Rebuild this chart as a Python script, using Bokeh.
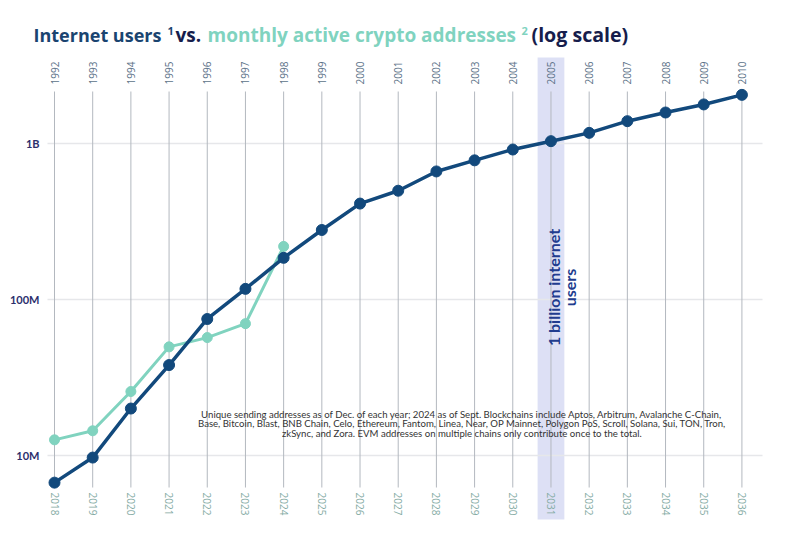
from math import pi
from bokeh.plotting import figure
from bokeh.models import (ColumnDataSource, LinearAxis, FixedTicker, Range1d,
                          BoxAnnotation, Label)
from bokeh.embed import file_html
from bokeh.resources import INLINE

# ---------------- data ----------------
internet_years = [1992, 1993, 1994, 1995, 1996, 1997, 1998, 1999, 2000, 2001,
                  2002, 2003, 2004, 2005, 2006, 2007, 2008, 2009, 2010]
internet_users_m = [6.7, 9.7, 20, 38, 75, 117, 185, 279, 412, 498,
                    662, 780, 915, 1035, 1170, 1390, 1580, 1780, 2050]

crypto_years = [2018, 2019, 2020, 2021, 2022, 2023, 2024]
crypto_addresses_m = [12.6, 14.4, 25.7, 49.7, 57, 70, 219]

bottom_years = list(range(2018, 2037))
y_ticks = [1e7, 1e8, 1e9]
y_tick_labels = ["10M", "100M", "1B"]

highlight_year = 2005
highlight_text = "1 billion internet\nusers"

note_lines = [
    "Unique sending addresses as of Dec. of each year; 2024 as of Sept. Blockchains include Aptos, Arbitrum, Avalanche C-Chain,",
    "Base, Bitcoin, Blast, BNB Chain, Celo, Ethereum, Fantom, Linea, Near, OP Mainnet, Polygon PoS, Scroll, Solana, Sui, TON, Tron,",
    "zkSync, and Zora. EVM addresses on multiple chains only contribute once to the total.",
]

# ---------------- colours ----------------
DARK = "#12497c"
TEAL = "#80d3bf"
NAVY = "#161d4c"
TITLE_BLUE = "#1a4470"

# ---------------- layout constants (pixels) ----------------
W, H = 782, 525
PX_1B = 143.0          # pixel row of 1B
PX_DECADE = 156.0      # pixels per decade
X0_PX = 54.0           # pixel column of first year
X_STEP = 38.19         # pixels per year
GRID_LEFT, GRID_RIGHT = 47, 762


def ylog_at(py):
    return 9 + (PX_1B - py) / PX_DECADE


def x_at(px):
    return (px - X0_PX) / X_STEP


internet_src = ColumnDataSource(dict(
    x=[y - internet_years[0] for y in internet_years],
    v=[m * 1e6 for m in internet_users_m]))
crypto_src = ColumnDataSource(dict(
    x=[y - crypto_years[0] for y in crypto_years],
    v=[m * 1e6 for m in crypto_addresses_m]))

p = figure(width=W, height=H, output_backend="svg", toolbar_location=None,
           y_axis_type="log",
           x_range=Range1d(x_at(0), x_at(W)),
           y_range=Range1d(10 ** ylog_at(H), 10 ** ylog_at(0)),
           min_border_left=0, min_border_right=0,
           min_border_top=0, min_border_bottom=0,
           background_fill_color="white", border_fill_color="white")
p.outline_line_color = None
p.xgrid.visible = False
p.ygrid.visible = False

# highlight band (underneath everything)
hx = highlight_year - internet_years[0]
band = BoxAnnotation(left=hx - 0.35, right=hx + 0.35,
                     top=H - 57, bottom=H - 519,
                     top_units="screen", bottom_units="screen",
                     fill_color="#d9ddf4", fill_alpha=0.9, line_color=None,
                     level="underlay")
p.add_layout(band)

# horizontal grid lines at the y ticks
m = len(y_ticks)
p.segment(x0=[x_at(GRID_LEFT)] * m, x1=[x_at(GRID_RIGHT)] * m,
          y0=y_ticks, y1=y_ticks, line_color="#e6e7ea", line_width=1.5)

# vertical year lines
n = len(internet_years)
p.segment(x0=list(range(n)), x1=list(range(n)),
          y0=[10 ** ylog_at(487)] * n, y1=[10 ** ylog_at(91)] * n,
          line_color="#b3b8bf", line_width=1)

# left axis
ya = p.yaxis[0]
ya.ticker = FixedTicker(ticks=y_ticks)
ya.major_label_overrides = {t: l for t, l in zip(y_ticks, y_tick_labels)}
ya.fixed_location = x_at(48)
ya.axis_line_color = None
ya.major_tick_line_color = None
ya.minor_tick_line_color = None
ya.major_label_standoff = 3
ya.major_label_text_font = "Lato"
ya.major_label_text_font_style = "bold"
ya.major_label_text_font_size = "11px"
ya.major_label_text_color = "#2c2f6c"

# bottom axis (crypto years)
xa = p.xaxis[0]
xa.ticker = FixedTicker(ticks=list(range(len(bottom_years))))
xa.major_label_overrides = {i: str(y) for i, y in enumerate(bottom_years)}
xa.major_label_orientation = "vertical"
xa.fixed_location = 10 ** ylog_at(486)
xa.axis_line_color = None
xa.major_tick_line_color = None
xa.minor_tick_line_color = None
xa.major_label_standoff = 0
xa.major_label_text_font = "Open Sans"
xa.major_label_text_font_size = "10px"
xa.major_label_text_color = "#86aca5"

# top axis (internet years)
ta = LinearAxis(ticker=FixedTicker(ticks=list(range(n))),
                major_label_overrides={i: str(y) for i, y in enumerate(internet_years)},
                major_label_orientation="vertical",
                fixed_location=10 ** ylog_at(90),
                axis_line_color=None, major_tick_line_color=None,
                minor_tick_line_color=None, major_label_standoff=0,
                major_label_text_font="Open Sans",
                major_label_text_font_size="10px",
                major_label_text_color="#5c7288")
p.add_layout(ta, "above")

# lines
p.line("x", "v", source=crypto_src, line_color=TEAL, line_width=3)
p.scatter("x", "v", source=crypto_src, size=10, fill_color=TEAL, line_color=TEAL)
p.line("x", "v", source=internet_src, line_color=DARK, line_width=3.5)
p.scatter("x", "v", source=internet_src, size=11, fill_color=DARK, line_color=DARK)

# band label
p.add_layout(Label(x=561, y=H - 287, x_units="screen", y_units="screen",
                   text=highlight_text, angle=pi / 2,
                   text_align="center", text_baseline="middle",
                   text_font="Lato", text_font_style="bold",
                   text_font_size="16px", text_line_height=0.8,
                   text_color="#213c8e"))

# note
for i, line in enumerate(note_lines):
    p.add_layout(Label(x=461.5, y=H - (414 + 9.3 * i),
                       x_units="screen", y_units="screen",
                       text=line, text_align="center", text_baseline="middle",
                       text_font="Lato", text_font_size="9.6px",
                       text_color="#333333"))

# title pieces (pixel x, middle y)
title_parts = [
    ("Internet users", 33, 34, "18px", TITLE_BLUE),
    ("1", 167, 30.5, "11px", TITLE_BLUE),
    ("vs.", 175, 34, "19px", NAVY),
    ("monthly active crypto addresses", 207, 34, "19px", TEAL),
    ("2", 521, 30.5, "11px", TEAL),
    ("(log scale)", 531, 34, "19.6px", NAVY),
]
for txt, px, py, fs, col in title_parts:
    p.add_layout(Label(x=px, y=H - py, x_units="screen", y_units="screen",
                       text=txt, text_font="Open Sans", text_font_style="bold",
                       text_font_size=fs, text_color=col,
                       text_baseline="middle"))

open("out.html", "w").write(file_html(p, INLINE))
